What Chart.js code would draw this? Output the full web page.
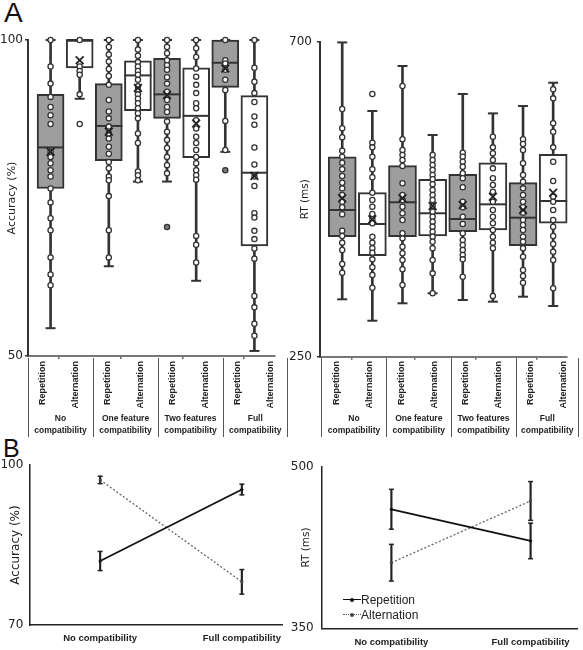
<!DOCTYPE html>
<html><head><meta charset="utf-8">
<script src="https://cdn.jsdelivr.net/npm/chart.js@4.4.1/dist/chart.umd.min.js"></script>
<style>
html,body{margin:0;padding:0;background:#fff;width:583px;height:650px;overflow:hidden;position:relative;font-family:'Liberation Sans',Arial,sans-serif;color:#222}
canvas{position:absolute}
.letter{position:absolute;color:#111;font-family:'Liberation Sans',Arial,sans-serif}
.grp{position:absolute;top:358px;height:79px;border-left:1.5px solid #555;box-sizing:border-box}
.grp.last{border-right:1.5px solid #555}
.cond{position:absolute;top:3px;writing-mode:vertical-rl;transform:rotate(180deg);font-weight:bold;font-size:9px;line-height:10px;white-space:nowrap;color:#222}
.gname{position:absolute;left:0;right:0;top:54px;text-align:center;font-weight:bold;font-size:8.5px;line-height:12px;color:#222;white-space:nowrap}
.leg{position:absolute;font-size:12px;line-height:14px;color:#222}
.legline{position:absolute;width:18px;height:0}
.legdot{position:absolute;width:4px;height:4px;border-radius:2px}
</style></head>
<body>
<div class="letter" style="left:4px;top:-1px;font-size:28px;line-height:28px">A</div>
<div class="letter" style="left:3px;top:436px;font-size:25px;line-height:25px">B</div>
<canvas id="accBox" width="290" height="380" style="left:0;top:0"></canvas>
<canvas id="rtBox" width="293" height="380" style="left:290px;top:0"></canvas>
<canvas id="accLine" width="290" height="220" style="left:0;top:430px"></canvas>
<canvas id="rtLine" width="293" height="220" style="left:290px;top:430px"></canvas>
<div id="labels"></div>
<script>
// ---------- Data ----------
const groups = ['No compatibility', 'One feature compatibility', 'Two features compatibility', 'Full compatibility'];
const conditions = ['Repetition', 'Alternation'];

// Panel A - Accuracy (%) box plots, order: group x condition
const accLow  = [54.4, 90.7, 64.2, 77.6, 77.6, 61.9, 82.3, 50.8];
const accQ1   = [76.5, 95.6, 80.9, 88.8, 87.6, 81.4, 92.5, 67.4];
const accMed  = [83.0, 100, 86.4, 94.4, 91.4, 88.0, 96.4, 79.0];
const accQ3   = [91.4, 100, 93.1, 96.7, 97.1, 95.6, 100, 91.2];
const accHigh = [100, 100, 100, 100, 100, 100, 100, 100];
const accMean = [82.3, 96.8, 85.5, 92.4, 91.3, 86.8, 95.5, 78.5];
const accOutliers = [null, null, null, null, 70.4, null, 79.4, null];
const accPoints = [
  [100, 95.8, 93.1, 91.0, 89.4, 88.1, 86.7, 82.3, 81.5, 80.5, 79.4, 78.4, 76.5, 74.3, 71.8, 69.9, 65.6, 62.9, 61.2],
  [100, 95.8, 95.1, 94.5, 91.4, 86.7],
  [100, 98.9, 97.7, 96.6, 95.4, 94.3, 92.9, 90.5, 88.7, 87.6, 86.3, 85.2, 84.4, 83.1, 82.0, 80.7, 79.7, 78.4, 77.8, 75.3, 69.9, 65.6],
  [100, 98.5, 97.5, 96.5, 95.8, 95.1, 94.5, 93.7, 92.7, 92.1, 91.4, 90.7, 90.0, 89.2, 88.4, 87.6, 85.2, 83.7, 79.2, 78.6, 77.8],
  [100, 98.9, 97.9, 96.8, 96.0, 95.3, 94.1, 93.1, 91.8, 90.5, 89.4, 88.6, 87.1, 85.5, 84.2, 82.9, 81.5, 80.2, 78.9],
  [100, 98.7, 97.3, 95.5, 94.2, 92.9, 91.6, 90.0, 89.2, 87.3, 86.0, 84.7, 83.7, 82.6, 81.5, 80.5, 79.4, 78.6, 77.9, 69.0, 67.6, 64.8],
  [100, 96.8, 96.3, 95.3, 93.7, 92.1, 87.2, 82.6],
  [100, 95.6, 93.4, 91.6, 90.2, 87.9, 86.6, 83.0, 80.3, 78.4, 76.9, 72.6, 71.9, 69.8, 68.5, 67.0, 65.4, 59.5, 57.7, 55.1, 53.2]
];

// Panel A - RT (ms) box plots
const rtLow  = [332.0, 301.4, 326.3, 340.6, 331.0, 328.6, 335.7, 322.4];
const rtQ1   = [421.4, 394.3, 421.4, 422.4, 428.6, 431.0, 408.6, 440.6];
const rtMed  = [459.6, 439.6, 470.6, 454.9, 446.7, 467.7, 448.6, 472.4];
const rtQ3   = [535.7, 484.3, 522.9, 503.4, 510.6, 527.1, 498.6, 539.1];
const rtHigh = [699.0, 601.0, 665.3, 566.7, 625.3, 597.6, 608.1, 641.4];
const rtMean = [476.3, 446.3, 476.3, 465.3, 466.7, 478.6, 459.6, 484.3];
const rtOutliers = [null, null, null, null, null, null, null, null];
const rtPoints = [
  [603.9, 576.3, 563.4, 544.3, 535.7, 527.1, 517.7, 508.1, 498.6, 490.5, 481.0, 471.4, 463.4, 453.4, 430.0, 422.4, 412.9, 402.4, 382.4, 370.0],
  [625.3, 555.7, 549.1, 535.7, 517.7, 506.3, 484.3, 473.9, 464.3, 453.9, 446.3, 440.6, 421.4, 412.9, 404.9, 398.6, 389.1, 377.7, 366.7, 348.6],
  [636.7, 560.6, 545.3, 538.1, 531.0, 522.4, 497.7, 481.0, 473.9, 464.3, 454.9, 445.3, 426.3, 419.1, 407.1, 397.7, 388.1, 374.9, 352.4],
  [538.1, 531.0, 523.9, 516.7, 509.6, 503.4, 496.3, 488.1, 481.0, 473.9, 465.3, 457.1, 450.0, 442.9, 435.7, 428.6, 421.4, 414.3, 404.9, 388.1, 369.1, 340.6],
  [541.4, 535.7, 528.6, 521.4, 512.0, 504.9, 492.0, 471.4, 463.4, 450.0, 439.6, 426.3, 416.7, 409.6, 402.4, 395.3, 389.1, 364.3],
  [564.3, 549.1, 540.6, 531.0, 519.1, 504.9, 495.3, 485.7, 471.4, 459.6, 450.0, 440.6, 431.0, 421.4, 412.9, 404.9, 336.7],
  [560.6, 553.9, 545.3, 526.3, 509.6, 500.0, 490.5, 481.0, 471.4, 463.4, 455.7, 445.3, 438.1, 431.0, 421.4, 414.3, 404.9, 392.9, 373.9, 365.3, 355.7],
  [632.0, 619.1, 583.4, 571.4, 549.1, 528.6, 501.0, 478.6, 471.4, 459.6, 445.3, 435.7, 422.4, 410.9, 400.0, 388.1, 347.7]
];

// Panel B - means and error bars
const bLabels = ['No compatibility', 'Full compatibility'];
const accRepMean = [82.0, 95.4];
const accRepErr  = [1.8, 1.0];
const accAltMean = [97.2, 78.1];
const accAltErr  = [0.7, 2.3];
const rtRepMean = [460.5, 431.1];
const rtRepErr  = [18.5, 16.5];
const rtAltMean = [410.9, 468.2];
const rtAltErr  = [17.0, 18.0];

// ---------- Setup ----------
Chart.defaults.font.family = "'DejaVu Sans', Verdana, sans-serif";
Chart.defaults.color = '#222';
Chart.defaults.animation = false;
Chart.defaults.events = [];
Chart.defaults.plugins.legend.display = false;
Chart.defaults.plugins.tooltip.enabled = false;

const GRAY = '#9d9d9d', DARK = '#333';

// nudge layout padding until the plot area sits where the reference has it
function fitArea(chart, t) {
  const p = Object.assign({}, chart.config.options.layout.padding);
  for (let i = 0; i < 5; i++) {
    const a = chart.chartArea;
    const dT = t.top - a.top, dB = a.bottom - t.bottom, dL = t.left - a.left, dR = a.right - t.right;
    if (Math.abs(dT) + Math.abs(dB) + Math.abs(dL) + Math.abs(dR) < 0.05) break;
    p.top += dT; p.bottom += dB; p.left += dL; p.right += dR;
    chart.options.layout.padding = Object.assign({}, p);
    chart.update();
  }
  return chart;
}

function boxChart(id, d, o) {
  const idx = d.q1.map((_, k) => k);
  const pts = [], ptFill = [];
  d.points.forEach((arr, k) => arr.forEach(v => { pts.push({x: k, y: v}); ptFill.push('#fff'); }));
  d.outliers.forEach((v, k) => { if (v != null) { pts.push({x: k, y: v}); ptFill.push('#7a7a7a'); } });
  const chart = new Chart(document.getElementById(id), {
    type: 'scatter',
    data: { datasets: [
      { type: 'bar', data: idx.map(k => ({x: k, y: [d.low[k], d.high[k]]})), backgroundColor: DARK,
        barThickness: 2, grouped: false, order: 6, clip: false },
      { type: 'bar', data: idx.map(k => ({x: k, y: [d.q1[k], d.q3[k]]})),
        backgroundColor: idx.map(k => k % 2 === 0 ? GRAY : '#fff'), borderColor: DARK, borderWidth: 2,
        borderSkipped: false, barThickness: o.boxW, grouped: false, order: 5, clip: false },
      { data: idx.flatMap(k => [{x: k, y: d.low[k]}, {x: k, y: d.high[k]}]), pointStyle: 'line',
        pointRadius: 5, pointBorderWidth: 2, pointBorderColor: DARK, order: 4, clip: false },
      { data: idx.map(k => ({x: k, y: d.med[k]})), pointStyle: 'line', pointRadius: o.boxW / 2,
        pointBorderWidth: 2, pointBorderColor: DARK, order: 3, clip: false },
      { data: pts, pointStyle: 'circle', pointRadius: 2.6, pointBackgroundColor: ptFill,
        pointBorderColor: DARK, pointBorderWidth: 1.3, order: 2, clip: false },
      { data: idx.map(k => ({x: k, y: d.mean[k]})), pointStyle: 'crossRot', pointRadius: 5.5,
        pointBorderWidth: 1.8, pointBorderColor: '#222', order: 1, clip: false }
    ]},
    options: {
      responsive: false, maintainAspectRatio: false,
      layout: { padding: { top: o.area.top, right: o.canvasW - o.area.right, bottom: o.canvasH - o.area.bottom - 6, left: 0 } },
      scales: {
        x: { type: 'linear', min: o.xMin, max: o.xMax, offset: false,
          afterBuildTicks: s => { s.ticks = o.xTicks.map(v => ({value: v})); },
          afterFit: s => { s.height = 6; },
          ticks: { display: false },
          grid: { drawOnChartArea: false, drawTicks: true, tickLength: 3, color: '#666', lineWidth: 1.5 },
          border: { display: true, color: '#777', width: 2 } },
        y: { type: 'linear', min: o.yMin, max: o.yMax,
          afterBuildTicks: s => { s.ticks = [{value: o.yMin}, {value: o.yMax}]; },
          afterFit: s => { s.width = o.area.left; },
          ticks: { padding: o.tickPad, font: { size: 12 }, color: '#222' },
          grid: { drawOnChartArea: false, tickLength: 3, color: DARK, lineWidth: 1.5 },
          border: { display: true, color: DARK, width: 2 },
          title: { display: true, text: o.title, font: { size: o.titleSize }, color: '#222',
            padding: { top: o.titlePad, bottom: 0 } } }
      }
    }
  });
  return fitArea(chart, o.area);
}

function lineChart(id, d, o) {
  const ks = d.rep.map((_, k) => k);
  const errs = (m, e) => ks.map(k => ({x: k, y: [m[k] - e[k], m[k] + e[k]]}));
  const caps = (m, e) => ks.flatMap(k => [{x: k, y: m[k] - e[k]}, {x: k, y: m[k] + e[k]}]);
  const chart = new Chart(document.getElementById(id), {
    type: 'scatter',
    data: { datasets: [
      { type: 'bar', data: errs(d.rep, d.repErr), backgroundColor: '#222', barThickness: 1.5, grouped: false, order: 6, clip: false },
      { type: 'bar', data: errs(d.alt, d.altErr), backgroundColor: '#222', barThickness: 1.5, grouped: false, order: 6, clip: false },
      { data: caps(d.rep, d.repErr).concat(caps(d.alt, d.altErr)), pointStyle: 'line', pointRadius: 2.5,
        pointBorderWidth: 1.5, pointBorderColor: '#222', order: 5, clip: false },
      { label: conditions[0], data: ks.map(k => ({x: k, y: d.rep[k]})), showLine: true, borderColor: '#111', borderWidth: 1.8,
        pointRadius: 1.6, pointBackgroundColor: '#111', pointBorderWidth: 0, order: 2, clip: false },
      { label: conditions[1], data: ks.map(k => ({x: k, y: d.alt[k]})), showLine: true, borderColor: '#666', borderWidth: 1.3,
        borderDash: [2, 2], pointRadius: 1.6, pointBackgroundColor: '#444', pointBorderWidth: 0, order: 3, clip: false }
    ]},
    options: {
      responsive: false, maintainAspectRatio: false,
      layout: { padding: { top: o.area.top, right: o.canvasW - o.area.right, bottom: o.canvasH - o.area.bottom - o.xH, left: 0 } },
      scales: {
        x: { type: 'linear', min: o.xMin, max: o.xMax, offset: false,
          afterBuildTicks: s => { s.ticks = ks.map(k => ({value: k})); },
          afterFit: s => { s.height = o.xH; },
          ticks: { callback: v => bLabels[v], autoSkip: false, maxRotation: 0, padding: o.xPad,
            font: { family: "'Liberation Sans', Arial, sans-serif", size: 9.5, weight: 'bold' }, color: '#222' },
          grid: { display: false, drawTicks: false },
          border: { display: true, color: '#222', width: 1.5 } },
        y: { type: 'linear', min: o.yMin, max: o.yMax,
          afterBuildTicks: s => { s.ticks = [{value: o.yMin}, {value: o.yMax}]; },
          afterFit: s => { s.width = o.area.left; },
          ticks: { padding: o.tickPad, font: { size: 12 }, color: '#222' },
          grid: { display: false, drawTicks: false },
          border: { display: true, color: '#222', width: 1.5 },
          title: { display: true, text: o.title, font: { size: o.titleSize }, color: '#222',
            padding: { top: o.titlePad, bottom: 0 } } }
      }
    }
  });
  return fitArea(chart, o.area);
}

boxChart('accBox', {low: accLow, q1: accQ1, med: accMed, q3: accQ3, high: accHigh, mean: accMean, points: accPoints, outliers: accOutliers},
  {boxW: 27, canvasW: 290, canvasH: 380, area: {left: 28, right: 287, top: 40, bottom: 356},
   xMin: -0.775, xMax: 7.69, xTicks: [-0.775, 1.35, 3.474, 5.598, 7.69],
   yMin: 50, yMax: 100, tickPad: 2, title: 'Accuracy (%)', titleSize: 11, titlePad: 6});
boxChart('rtBox', {low: rtLow, q1: rtQ1, med: rtMed, q3: rtQ3, high: rtHigh, mean: rtMean, points: rtPoints, outliers: rtOutliers},
  {boxW: 28, canvasW: 293, canvasH: 380, area: {left: 30, right: 289, top: 41.7, bottom: 356.7},
   xMin: -0.737, xMax: 7.459, xTicks: [-0.737, 1.373, 3.408, 5.465, 7.459],
   yMin: 250, yMax: 700, tickPad: 5, title: 'RT (ms)', titleSize: 10.5, titlePad: 9});
lineChart('accLine', {rep: accRepMean, repErr: accRepErr, alt: accAltMean, altErr: accAltErr},
  {canvasW: 290, canvasH: 220, area: {left: 29.3, right: 283, top: 35, bottom: 195}, xH: 25, xPad: 8,
   xMin: -0.5, xMax: 1.29, yMin: 70, yMax: 100, tickPad: 6,
   title: 'Accuracy (%)', titleSize: 12, titlePad: 9});
lineChart('rtLine', {rep: rtRepMean, repErr: rtRepErr, alt: rtAltMean, altErr: rtAltErr},
  {canvasW: 293, canvasH: 220, area: {left: 31.7, right: 290, top: 36.7, bottom: 198.3}, xH: 21.7, xPad: 8,
   xMin: -0.5007, xMax: 1.337, yMin: 350, yMax: 500, tickPad: 8,
   title: 'RT (ms)', titleSize: 10.5, titlePad: 9.5});

// ---------- Category labels under panel A ----------
const lab = document.getElementById('labels');
function groupRow(lefts, widths) {
  groups.forEach((g, i) => {
    const div = document.createElement('div');
    div.className = 'grp' + (i === groups.length - 1 ? ' last' : '');
    div.style.left = lefts[i] + 'px';
    div.style.width = widths[i] + 'px';
    conditions.forEach((c, j) => {
      const s = document.createElement('div');
      s.className = 'cond';
      s.textContent = c;
      s.style.left = (j === 0 ? 8.5 : 41.5) + 'px';
      div.appendChild(s);
    });
    const cut = g.lastIndexOf(' ');
    const n = document.createElement('div');
    n.className = 'gname';
    n.innerHTML = g.slice(0, cut) + '<br>' + g.slice(cut + 1);
    div.appendChild(n);
    lab.appendChild(div);
  });
}
groupRow([27.5, 92.5, 157.5, 222.5], [65, 65, 65, 65.5]);
groupRow([321, 386, 450.5, 515.5], [65, 64.5, 65, 63.5]);

// ---------- Legend for RT line panel ----------
const legItems = [
  {top: 599.5, style: '1.8px solid #111', dot: '#111'},
  {top: 614.5, style: '1.5px dotted #555', dot: '#444'}
];
conditions.forEach((c, i) => {
  const it = legItems[i];
  const l = document.createElement('div');
  l.className = 'legline';
  l.style.left = '342.5px'; l.style.top = (it.top - 1) + 'px'; l.style.borderTop = it.style;
  lab.appendChild(l);
  const dt = document.createElement('div');
  dt.className = 'legdot';
  dt.style.left = '349.5px'; dt.style.top = (it.top - 2) + 'px'; dt.style.background = it.dot;
  lab.appendChild(dt);
  const t = document.createElement('div');
  t.className = 'leg';
  t.textContent = c;
  t.style.left = '361px'; t.style.top = (it.top - 7) + 'px';
  lab.appendChild(t);
});
</script>
</body></html>
